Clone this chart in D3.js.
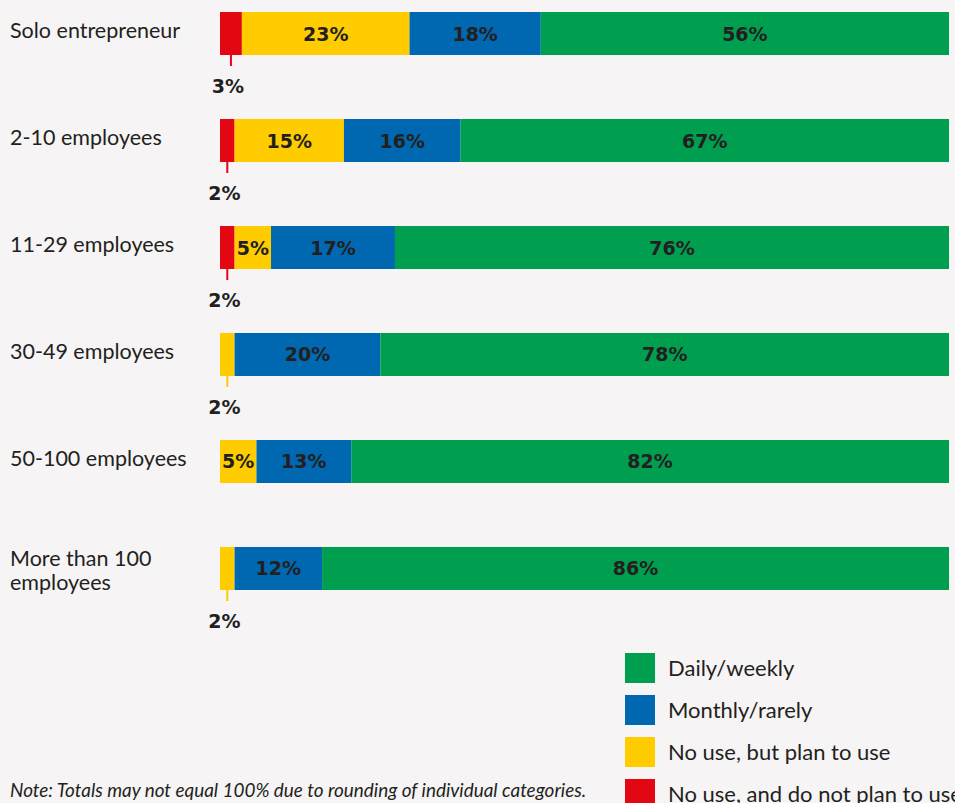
<!DOCTYPE html>
<html>
<head>
<meta charset="utf-8">
<script src="https://cdn.jsdelivr.net/npm/d3@7"></script>
<style>
  html, body { margin: 0; padding: 0; background: #f6f4f5; }
  svg { display: block; }
</style>
</head>
<body>
<svg id="chart" width="955" height="803"></svg>
<script>
// Usage frequency by company size (shares in %)
const categories = [
  "Solo entrepreneur",
  "2-10 employees",
  "11-29 employees",
  "30-49 employees",
  "50-100 employees",
  "More than 100 employees"
];
const noPlan    = [3, 2, 2, 0, 0, 0];    // No use, and do not plan to use
const planToUse = [23, 15, 5, 2, 5, 2];  // No use, but plan to use
const monthly   = [18, 16, 17, 20, 13, 12]; // Monthly/rarely
const daily     = [56, 67, 76, 78, 82, 86]; // Daily/weekly

const seriesNames = [
  "No use, and do not plan to use",
  "No use, but plan to use",
  "Monthly/rarely",
  "Daily/weekly"
];
const seriesKeys = ["noPlan", "planToUse", "monthly", "daily"];
const seriesColors = ["#e30613", "#ffcc00", "#0067b1", "#009e4f"];
const legendOrder = [3, 2, 1, 0];
const noteText = "Note: Totals may not equal 100% due to rounding of individual categories.";

const rows = categories.map((c, i) => ({
  category: c,
  noPlan: noPlan[i],
  planToUse: planToUse[i],
  monthly: monthly[i],
  daily: daily[i]
}));

const svg = d3.select("#chart");
const textColor = "#231f20";
const labelFont = "Lato, 'Open Sans', sans-serif";
const valueFont = "'DejaVu Sans', sans-serif";

const x = d3.scaleLinear().domain([0, 100]).range([220, 949]);
const y = d3.scaleBand().domain(categories).range([12, 590])
  .paddingInner(0.598).paddingOuter(0).align(0);
const color = d3.scaleOrdinal().domain(seriesKeys).range(seriesColors);

const stacked = d3.stack().keys(seriesKeys)(rows);

// Bars
const layer = svg.append("g").selectAll("g")
  .data(stacked).join("g")
  .attr("fill", d => color(d.key));

layer.selectAll("rect")
  .data(d => d.map(v => ({ key: d.key, v0: v[0], v1: v[1], cat: v.data.category })))
  .join("rect")
  .filter(d => d.v1 > d.v0)
  .attr("x", d => x(d.v0))
  .attr("y", d => y(d.cat))
  .attr("width", d => x(d.v1) - x(d.v0))
  .attr("height", y.bandwidth());

// Value labels: inside for wide segments, below with a leader tick for narrow ones
const segs = [];
stacked.forEach(s => s.forEach(v => {
  const val = v[1] - v[0];
  if (val > 0) segs.push({ key: s.key, v0: v[0], v1: v[1], val, cat: v.data.category });
}));

const inside = segs.filter(d => d.val >= 5);
svg.append("g").selectAll("text")
  .data(inside).join("text")
  .attr("x", d => (x(d.v0) + x(d.v1)) / 2)
  .attr("y", d => y(d.cat) + y.bandwidth() / 2 + 7)
  .attr("text-anchor", "middle")
  .attr("font-family", valueFont)
  .attr("font-weight", "bold")
  .attr("font-size", 19)
  .attr("fill", textColor)
  .text(d => d.val + "%");

const outside = segs.filter(d => d.val < 5);
const outG = svg.append("g");
outG.selectAll("line")
  .data(outside).join("line")
  .attr("x1", d => (x(d.v0) + x(d.v1)) / 2)
  .attr("x2", d => (x(d.v0) + x(d.v1)) / 2)
  .attr("y1", d => y(d.cat) + y.bandwidth())
  .attr("y2", d => y(d.cat) + y.bandwidth() + 11)
  .attr("stroke", d => color(d.key))
  .attr("stroke-width", 2);
outG.selectAll("text")
  .data(outside).join("text")
  .attr("x", d => (x(d.v0) + x(d.v1)) / 2 - 3)
  .attr("y", d => y(d.cat) + y.bandwidth() + 38)
  .attr("text-anchor", "middle")
  .attr("font-family", valueFont)
  .attr("font-weight", "bold")
  .attr("font-size", 19)
  .attr("fill", textColor)
  .text(d => d.val + "%");

// Category labels (long ones wrap onto two lines)
const catG = svg.append("g");
categories.forEach(c => {
  const lines = c === "More than 100 employees" ? ["More than 100", "employees"] : [c];
  const t = catG.append("text")
    .attr("font-family", labelFont)
    .attr("font-size", 21.5)
    .attr("fill", textColor);
  const top = y(c);
  if (lines.length === 1) {
    t.append("tspan").attr("x", 10).attr("y", top + 26).text(lines[0]);
  } else {
    lines.forEach((l, i) => {
      t.append("tspan").attr("x", 10).attr("y", top + 19 + i * 24).text(l);
    });
  }
});

// Legend
const legend = svg.append("g").attr("transform", "translate(625,653)");
legendOrder.forEach((si, i) => {
  const g = legend.append("g").attr("transform", `translate(0,${i * 42})`);
  g.append("rect").attr("width", 30).attr("height", 30).attr("fill", seriesColors[si]);
  g.append("text")
    .attr("x", 43).attr("y", 23)
    .attr("font-family", labelFont)
    .attr("font-size", 22)
    .attr("fill", textColor)
    .text(seriesNames[si]);
});

// Footnote
svg.append("text")
  .attr("x", 10).attr("y", 797)
  .attr("font-family", labelFont)
  .attr("font-style", "italic")
  .attr("font-size", 18.9)
  .attr("fill", textColor)
  .text(noteText);
</script>
</body>
</html>
